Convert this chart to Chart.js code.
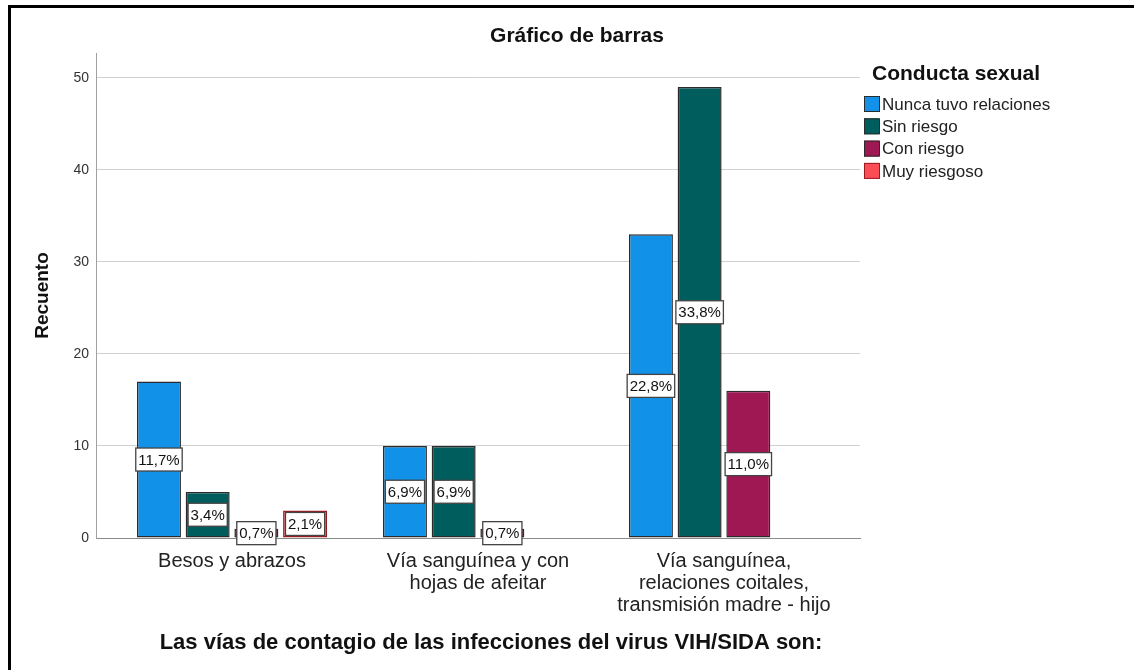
<!DOCTYPE html>
<html>
<head>
<meta charset="utf-8">
<script src="https://cdn.jsdelivr.net/npm/chart.js@4/dist/chart.umd.min.js"></script>
<style>
  html, body { margin: 0; padding: 0; background: #fff; }
  #frame {
    position: absolute; left: 8px; top: 5px; width: 1200px; height: 700px;
    border-top: 3px solid #000; border-left: 3px solid #000;
  }
  #wrap { position: absolute; left: 0; top: 0; width: 1134px; height: 670px; }
</style>
</head>
<body>
<div id="frame"></div>
<div id="wrap"><canvas id="chart" width="1134" height="670"></canvas></div>
<script>
// categories on the x axis
const categories = [
    'Besos y abrazos',
    ['Vía sanguínea y con', 'hojas de afeitar'],
    ['Vía sanguínea,', 'relaciones coitales,', 'transmisión madre - hijo']
];

// series (counts), null = no bar
const nuncaTuvo = [17, 10, 33];
const sinRiesgo = [5, 10, 49];
const conRiesgo = [1, 1, 16];
const muyRiesgoso = [3, null, null];

// percentage labels shown on the bars
const nuncaTuvoPct = ['11,7%', '6,9%', '22,8%'];
const sinRiesgoPct = ['3,4%', '6,9%', '33,8%'];
const conRiesgoPct = ['0,7%', '0,7%', '11,0%'];
const muyRiesgosoPct = ['2,1%', null, null];

const seriesNames = ['Nunca tuvo relaciones', 'Sin riesgo', 'Con riesgo', 'Muy riesgoso'];
const yTicks = [0, 10, 20, 30, 40, 50];

const colors = ['#1192e8', '#005d5d', '#9f1853', '#fa4d56'];
const borders = ['#2b2b2b', '#2b2b2b', '#2b2b2b', '#9a1c22'];

const FONT = '"Liberation Sans", Arial, sans-serif';

function toPoints(values) {
    return values.map((v, i) => ({ x: i, y: v }));
}

const allValues = [nuncaTuvo, sinRiesgo, conRiesgo, muyRiesgoso];
const allPct = [nuncaTuvoPct, sinRiesgoPct, conRiesgoPct, muyRiesgosoPct];

// titles, legend and percentage boxes
const extrasPlugin = {
    id: 'extras',
    afterDatasetsDraw(chart) {
        const ctx = chart.ctx;
        ctx.save();
        ctx.font = '15px ' + FONT;
        ctx.textAlign = 'center';
        ctx.textBaseline = 'middle';
        chart.data.datasets.forEach((ds, di) => {
            const meta = chart.getDatasetMeta(di);
            meta.data.forEach((bar, i) => {
                const label = allPct[di][i];
                if (label == null || ds.data[i].y == null) return;
                const cx = bar.x;
                const cy = (bar.y + bar.base) / 2;
                const w = ctx.measureText(label).width + 5;
                const h = 23;
                ctx.fillStyle = '#fff';
                ctx.fillRect(cx - w / 2, cy - h / 2, w, h);
                ctx.strokeStyle = '#444';
                ctx.lineWidth = 1.3;
                ctx.strokeRect(cx - w / 2, cy - h / 2, w, h);
                ctx.fillStyle = '#111';
                ctx.fillText(label, cx, cy + 1);
            });
        });
        ctx.restore();
    },
    afterDraw(chart) {
        const ctx = chart.ctx;
        ctx.save();
        ctx.textBaseline = 'middle';

        // main title
        ctx.fillStyle = '#111';
        ctx.textAlign = 'center';
        ctx.font = 'bold 21px ' + FONT;
        ctx.fillText('Gráfico de barras', 577, 36);

        // x axis title
        ctx.font = 'bold 22px ' + FONT;
        ctx.fillText('Las vías de contagio de las infecciones del virus VIH/SIDA son:', 491, 643);

        // legend
        ctx.textAlign = 'left';
        ctx.font = 'bold 21px ' + FONT;
        ctx.fillText('Conducta sexual', 872, 74);
        ctx.font = '17px ' + FONT;
        seriesNames.forEach((name, i) => {
            const y = 104 + i * 22.3;
            ctx.fillStyle = colors[i];
            ctx.fillRect(864, y - 8, 15, 16);
            ctx.strokeStyle = borders[i];
            ctx.lineWidth = 1;
            ctx.strokeRect(864.5, y - 7.5, 15, 15);
            ctx.fillStyle = '#222';
            ctx.fillText(name, 882, y + 1);
        });
        ctx.restore();
    }
};

new Chart(document.getElementById('chart'), {
    type: 'bar',
    data: {
        datasets: seriesNames.map((name, i) => ({
            label: name,
            data: toPoints(allValues[i]),
            backgroundColor: colors[i],
            borderColor: borders[i],
            borderWidth: 1.5,
            borderSkipped: false,
            categoryPercentage: 0.792,
            barPercentage: 0.903
        }))
    },
    options: {
        responsive: false,
        animation: false,
        layout: { padding: { top: 53, right: 274, left: 0, bottom: 0 } },
        plugins: {
            legend: { display: false },
            title: { display: false },
            tooltip: { enabled: false }
        },
        scales: {
            x: {
                type: 'linear',
                offset: false,
                min: -0.553,
                max: 2.553,
                afterBuildTicks: function(axis) {
                    axis.ticks = categories.map((c, i) => ({ value: i }));
                },
                afterFit: function(scale) { scale.height = 132; },
                grid: { display: false, drawTicks: false, offset: false },
                border: { display: true, color: '#8a8a8a', width: 1 },
                ticks: {
                    autoSkip: false,
                    maxRotation: 0,
                    padding: 13,
                    color: '#222',
                    font: { family: FONT, size: 20, lineHeight: 1.08 },
                    callback: function(value) { return categories[value]; }
                }
            },
            y: {
                min: 0,
                max: 52.7,
                afterBuildTicks: function(axis) {
                    axis.ticks = yTicks.map(v => ({ value: v }));
                },
                afterFit: function(scale) { scale.width = 96; },
                grid: { color: '#d0d0d0', lineWidth: 1, drawTicks: false },
                border: { color: '#a0a0a0', width: 1 },
                ticks: {
                    padding: 7,
                    color: '#333',
                    font: { family: FONT, size: 14 }
                },
                title: {
                    display: true,
                    text: 'Recuento',
                    color: '#111',
                    font: { family: FONT, size: 19, weight: 'bold' },
                    padding: { top: 31, bottom: 0 }
                }
            }
        }
    },
    plugins: [extrasPlugin]
});
</script>
</body>
</html>
